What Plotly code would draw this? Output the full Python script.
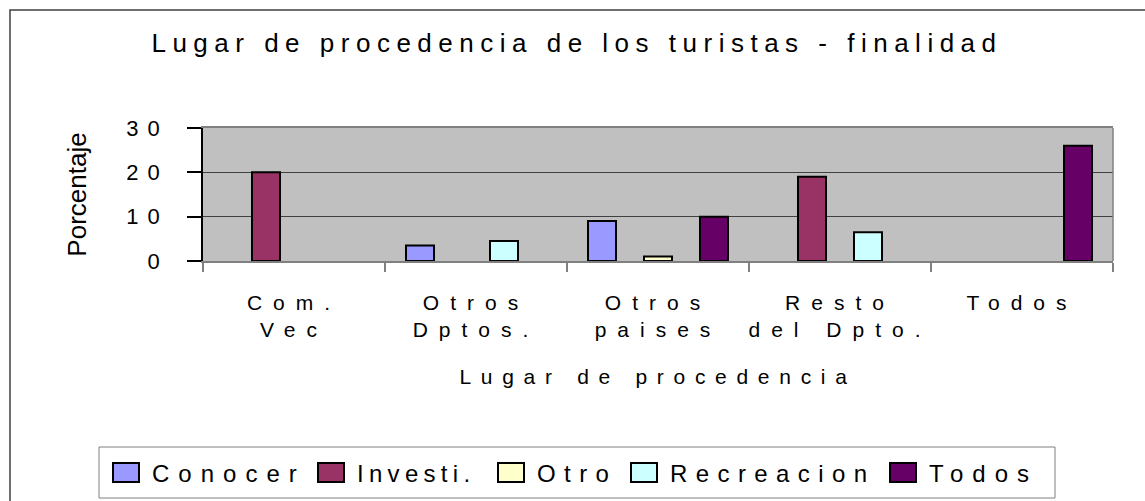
import json
import plotly.graph_objects as go

# datos
categorias = ["Com.<br>Vec", "Otros<br>Dptos.", "Otros<br>paises", "Resto<br>del Dpto.", "Todos"]
series = ["Conocer", "Investi.", "Otro", "Recreacion", "Todos"]
conocer = [None, 3.5, 9, None, None]
investi = [20, None, None, 19, None]
otro = [None, None, 1, None, None]
recreacion = [None, 4.5, None, 6.5, None]
todos = [None, None, 10, None, 26]
y_ticks = [0, 10, 20, 30]

colores = ["#9999FF", "#993366", "#FFFFCC", "#CCFFFF", "#660066"]
valores = [conocer, investi, otro, recreacion, todos]

W, H = 1145, 501
# plot area in pixels
L, R, T, B = 203, 1113, 128, 261
FONT = "Liberation Sans, Arial, sans-serif"


def px_x(x):
    return (x - L) / (R - L)


def px_y(y):
    return (B - y) / (B - T)


fig = go.Figure()
for nombre, vals, col in zip(series, valores, colores):
    fig.add_trace(go.Bar(
        x=categorias, y=vals, name=nombre,
        marker=dict(color=col, line=dict(color="black", width=2)),
    ))

shapes = []
# outer chart border (runs off the right and bottom of the picture)
shapes.append(dict(type="rect", xref="paper", yref="paper",
                   x0=px_x(10), x1=px_x(1147), y0=px_y(512), y1=px_y(10),
                   line=dict(color="#404040", width=1.5), fillcolor="rgba(0,0,0,0)"))
# right border of plot area
shapes.append(dict(type="line", xref="paper", yref="paper", x0=1, x1=1, y0=0, y1=1,
                   line=dict(color="#808080", width=1.5)))
# legend box
shapes.append(dict(type="rect", xref="paper", yref="paper",
                   x0=px_x(99), x1=px_x(1055), y0=px_y(498), y1=px_y(447),
                   line=dict(color="#808080", width=1), fillcolor="white"))

annotations = []
leg_x = [113, 318, 498, 631, 890]
leg_spacing = [9, 5.3, 8.4, 8.4, 9]
for nombre, col, lx in zip(series, colores, leg_x):
    shapes.append(dict(type="rect", xref="paper", yref="paper",
                       x0=px_x(lx), x1=px_x(lx + 26), y0=px_y(482), y1=px_y(463),
                       line=dict(color="black", width=2), fillcolor=col))
    annotations.append(dict(text=nombre, xref="paper", yref="paper", align="left",
                            x=px_x(lx + 37), y=px_y(473), xanchor="left", yanchor="middle",
                            showarrow=False, font=dict(size=24, color="black", family=FONT)))

fig.update_layout(
    width=W, height=H,
    margin=dict(l=L, r=W - R, t=T, b=H - B),
    paper_bgcolor="white",
    plot_bgcolor="#C0C0C0",
    font=dict(family=FONT, color="black"),
    title=dict(text="Lugar de procedencia de los turistas - finalidad",
               x=577 / W, xanchor="center", xref="container",
               y=1 - 43 / H, yanchor="middle", yref="container",
               font=dict(size=26, color="black")),
    showlegend=False,
    bargap=1.5 / 6.5, bargroupgap=0,
    xaxis=dict(showline=True, linecolor="#808080", linewidth=1.5, mirror=True,
               ticks="outside", tickson="boundaries", ticklen=9, tickcolor="#808080",
               tickwidth=1.5, showgrid=False, tickfont=dict(size=21), ticklabelstandoff=22,
               title=dict(text="Lugar de procedencia", font=dict(size=21), standoff=29)),
    yaxis=dict(range=[0, 30], tickvals=y_ticks, showline=True, linecolor="black",
               linewidth=1.5, ticks="outside", ticklen=14, tickcolor="black", tickwidth=1.5,
               showgrid=True, gridcolor="#404040", gridwidth=1.2, zeroline=False,
               tickfont=dict(size=22), ticklabelstandoff=14,
               title=dict(text="Porcentaje", font=dict(size=26), standoff=50)),
    shapes=shapes,
    annotations=annotations,
)

# Excel-like wide letter spacing, and no page margin
spacing_js = """
document.body.style.margin = '0';
var gd = document.getElementById('{plot_id}');
function sp(sel, v) { gd.querySelectorAll(sel).forEach(function(t){ t.style.letterSpacing = v + 'px'; }); }
sp('.gtitle', 6.5);
sp('.xtick text', 11);
sp('.ytick text', 9);
sp('.xtitle', 9.7);
var legSp = LEG_SPACING;
gd.querySelectorAll('.annotation-text').forEach(function(t, i){ t.style.letterSpacing = legSp[i] + 'px'; });
""".replace("LEG_SPACING", json.dumps(leg_spacing))

fig.write_html("out.html", post_script=spacing_js, config={"displayModeBar": False})
